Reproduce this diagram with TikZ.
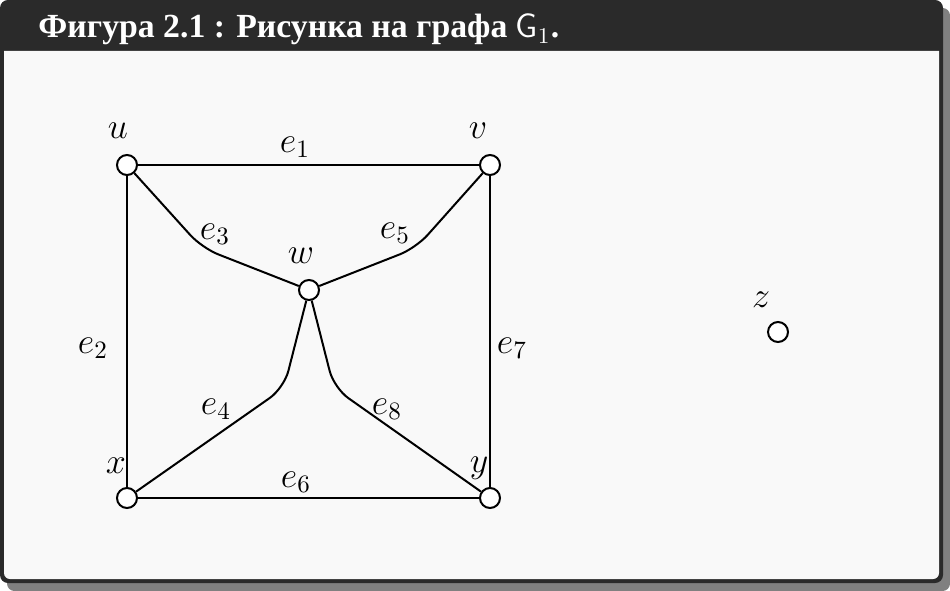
\documentclass[tikz,border=0pt]{standalone}
\usepackage{fontspec}
\newfontfamily\titlefont{Liberation Serif}
\definecolor{framedark}{HTML}{2A2A2A}
\definecolor{boxbg}{HTML}{F9F9F9}
\definecolor{shadowgray}{HTML}{808080}
\begin{document}
\begin{tikzpicture}[x=0.4pt,y=-0.4pt,
  vert/.style={circle,draw,fill=white,line width=0.8pt,minimum size=8pt,inner sep=0pt},
  edge/.style={line width=0.8pt,rounded corners=7pt},
  lbl/.style={font=\fontsize{14}{16}\selectfont,inner sep=0pt},
  titletext/.style={text=white,inner sep=0pt,font=\titlefont\bfseries\fontsize{13.5}{16}\selectfont}]
\useasboundingbox (0,0) rectangle (950,591);
% shadow and frame
\fill[shadowgray,rounded corners=3pt] (7,8) rectangle (950,591);
\fill[framedark,rounded corners=3.2pt] (0,0) rectangle (943,583);
\fill[boxbg] (4,51) -- (939,51) [rounded corners=2.4pt] -- (939,579) -- (4,579) [sharp corners] -- cycle;
\node[titletext,anchor=base west] (title) at (38,38) {Фигура 2.1 : Рисунка на графа {\normalfont\mdseries$\mathsf{G}_1$}.};
% vertices
\node[vert] (u) at (127,165) {};
\node[vert] (v) at (490,165) {};
\node[vert] (w) at (309,290) {};
\node[vert] (x) at (127,498) {};
\node[vert] (y) at (490,498) {};
\node[vert] (z) at (778,332) {};
% bend points
\coordinate (b3) at (202,248);
\coordinate (b5) at (416,248);
\coordinate (b4) at (284,388);
\coordinate (b8) at (334,388);
% edges
\draw[edge] (u) -- (v);
\draw[edge] (u) -- (x);
\draw[edge] (v) -- (y);
\draw[edge] (x) -- (y);
\draw[edge] (u) -- (b3) -- (w);
\draw[edge] (w) -- (b5) -- (v);
\draw[edge] (w) -- (b4) -- (x);
\draw[edge] (w) -- (b8) -- (y);
% vertex labels
\node[lbl] (lu) at (118,131) {$u$};
\node[lbl] (lv) at (478,131) {$v$};
\node[lbl] (lw) at (301,256) {$w$};
\node[lbl] (lx) at (116,466) {$x$};
\node[lbl] (ly) at (479,468) {$y$};
\node[lbl] (lz) at (761,300) {$z$};
% edge labels
\node[lbl] (le1) at (295,147) {$e_1$};
\node[lbl] (le2) at (93,348) {$e_2$};
\node[lbl] (le3) at (215,234) {$e_3$};
\node[lbl] (le4) at (216,409) {$e_4$};
\node[lbl] (le5) at (395,233) {$e_5$};
\node[lbl] (le6) at (296,482) {$e_6$};
\node[lbl] (le7) at (512,348) {$e_7$};
\node[lbl] (le8) at (387,409) {$e_8$};
\end{tikzpicture}
\end{document}
